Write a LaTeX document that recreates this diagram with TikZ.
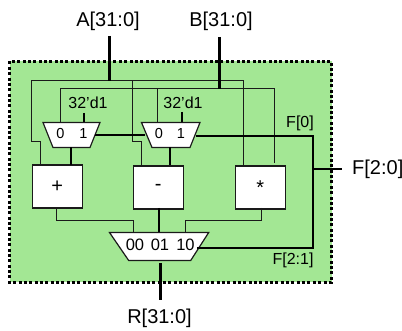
\documentclass[tikz,border=0pt]{standalone}
\usepackage{fontspec}
\setmainfont{Liberation Sans}
\definecolor{panel}{HTML}{A3E794}
\definecolor{ink}{HTML}{1A1A1A}
\tikzset{
  x=1pt,y=-1pt,
  thinw/.style={draw=ink,line width=1.3pt},
  midw/.style={draw=black,line width=2pt},
  busw/.style={draw=black,line width=3pt},
  opbox/.style={draw=ink,fill=white,line width=1.3pt,minimum width=50pt,minimum height=43pt,inner sep=0pt,anchor=north west,font=\fontsize{20}{22}\selectfont},
  muxshape/.style={draw=ink,fill=white,line width=1.2pt},
  lab/.style={inner sep=0pt,font=\fontsize{20}{22}\selectfont},
  small/.style={inner sep=0pt,font=\fontsize{14.5}{16}\selectfont},
  muxlab/.style={inner sep=0pt,font=\fontsize{16.5}{18}\selectfont},
  tiny/.style={inner sep=0pt,font=\fontsize{16}{18}\selectfont},
}
\begin{document}
\begin{tikzpicture}
\useasboundingbox (0,0) rectangle (402,331);
\fill[panel] (9.5,61.5) rectangle (331.5,282.5);
\draw[black,line width=3pt,dash pattern=on 3pt off 2.35pt] (9.5,61.5) rectangle (331.5,282.5);

% nodes
\node[lab] (A) at (108,21) {A[31:0]};
\node[lab] (B) at (221,21) {B[31:0]};
\node[lab] (Rl) at (159.5,318) {R[31:0]};
\node[lab,anchor=west] (Fl) at (352,169) {F[2:0]};
\node[tiny,anchor=east] (F0) at (314,123) {F[0]};
\node[tiny] (F21) at (293,260) {F[2:1]};
\node[tiny] (k1) at (88,103) {32'd1};
\node[tiny] (k2) at (183,103) {32'd1};

\node[opbox] (add) at (31.5,164.5) {+};
\node[opbox] (sub) at (132.5,165.5) {-};
\node[opbox] (mul) at (234.5,165.5) {*};

% coordinates
\coordinate (Ain) at (109.5,36);
\coordinate (Aj) at (109.5,81);
\coordinate (Bin) at (219.5,37);
\coordinate (Bj) at (219.5,89);
\coordinate (Fin) at (342,169);
\coordinate (Fj) at (313,169);
\coordinate (Rout) at (160.5,300);
\coordinate (Rtop) at (160.5,263);

% internal wires
\draw[thinw] (40.5,165) -- (40.5,141.5) -- (31.5,141.5) -- (31.5,80.5) -- (243.5,80.5) -- (243.5,165);
\draw[thinw] (132.5,80.5) -- (132.5,141.5) -- (141.5,141.5) -- (141.5,165);
\draw[thinw] (60.5,123) -- (60.5,88.5) -- (274.5,88.5) -- (274.5,163);
\draw[thinw] (157.5,88.5) -- (157.5,122);
\draw[thinw] (56.5,208) -- (56.5,220.5) -- (133.5,220.5) -- (133.5,233);
\draw[thinw] (261.5,208) -- (261.5,220.5) -- (185.5,220.5) -- (185.5,234);
\draw[midw] (159,208) -- (159,233);

\draw[midw] (84,113) -- (84,123);
\draw[midw] (182,112) -- (182,122);

% muxes
\draw[muxshape] (43,122.5) -- (100,122.5) -- (90,147.5) -- (53,147.5) -- cycle;
\draw[muxshape] (141.5,122.5) -- (200,122.5) -- (190,147.5) -- (152,147.5) -- cycle;
\draw[muxshape] (109.5,232.5) -- (208.7,232.5) -- (190.7,260.5) -- (128.7,260.5) -- cycle;

\node[small] (m10) at (60.5,133.3) {0};
\node[small] (m11) at (83.5,133.3) {1};
\node[small] (m20) at (159,133.3) {0};
\node[small] (m21) at (181,133.3) {1};
\node[muxlab] (m30) at (135,245) {00};
\node[muxlab] (m31) at (160,245) {01};
\node[muxlab] (m32) at (185.5,245) {10};

% select and data wires
\draw[midw] (95,135) -- (145,135);
\draw[midw] (196,136) -- (313,136) -- (313,248) -- (197,248);
\draw[midw] (Fj) -- (Fin);
\draw[midw] (71,147.5) -- (71,165);
\draw[midw] (170,147.5) -- (170,165);

% buses
\draw[busw] (Ain) -- (Aj);
\draw[busw] (Bin) -- (Bj);
\draw[busw] (Rtop) -- (Rout);
\end{tikzpicture}
\end{document}
